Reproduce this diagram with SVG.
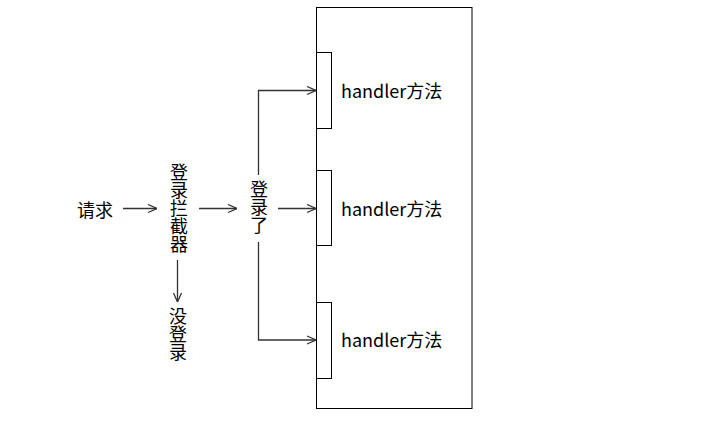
<svg xmlns="http://www.w3.org/2000/svg" width="715" height="422" viewBox="0 0 715 422">
<style>
text{font-family:"Noto Sans CJK SC","Noto Sans",sans-serif;font-size:18px;fill:#000;}
.c{text-anchor:middle;dominant-baseline:central;}
.v{writing-mode:vertical-rl;text-anchor:start;}
.box{fill:#fff;stroke:#000;stroke-width:1;}
.ln{fill:none;stroke:#333;stroke-width:1.3;}
</style>
<defs>
<marker id="ah" viewBox="0 0 10 10" refX="10" refY="5" markerWidth="10" markerHeight="10" markerUnits="userSpaceOnUse" orient="auto">
<path d="M1,1 L10,5 L1,9" fill="none" stroke="#333" stroke-width="1.3"/>
</marker>
</defs>
<rect width="715" height="422" fill="#fff"/>
<g id="container"><rect class="box" x="316.5" y="7.5" width="155.5" height="401"/></g>
<g id="h1"><rect class="box" x="316.5" y="52.5" width="15" height="76"/><text x="341" y="98">handler方法</text></g>
<g id="h2"><rect class="box" x="316.5" y="170.5" width="15" height="75"/><text x="341" y="216">handler方法</text></g>
<g id="h3"><rect class="box" x="316.5" y="302.5" width="15" height="76"/><text x="341" y="347">handler方法</text></g>
<g id="req"><text class="c" x="95" y="208.5">请求</text></g>
<g id="interceptor"><text class="v" x="179" y="163">登录拦截器</text></g>
<g id="loggedin"><text class="v" x="259" y="180">登录了</text></g>
<g id="notlogged"><text class="v" x="178" y="307">没登录</text></g>
<g id="connectors">
<path class="ln" d="M123,208.5 H157" marker-end="url(#ah)"/>
<path class="ln" d="M199,208.5 H237" marker-end="url(#ah)"/>
<path class="ln" d="M278,208.5 H316" marker-end="url(#ah)"/>
<path class="ln" d="M177.5,260 V302" marker-end="url(#ah)"/>
<path class="ln" d="M258.5,175 V90.5 H316" marker-end="url(#ah)"/>
<path class="ln" d="M258.5,242 V340 H316" marker-end="url(#ah)"/>
</g>
</svg>
